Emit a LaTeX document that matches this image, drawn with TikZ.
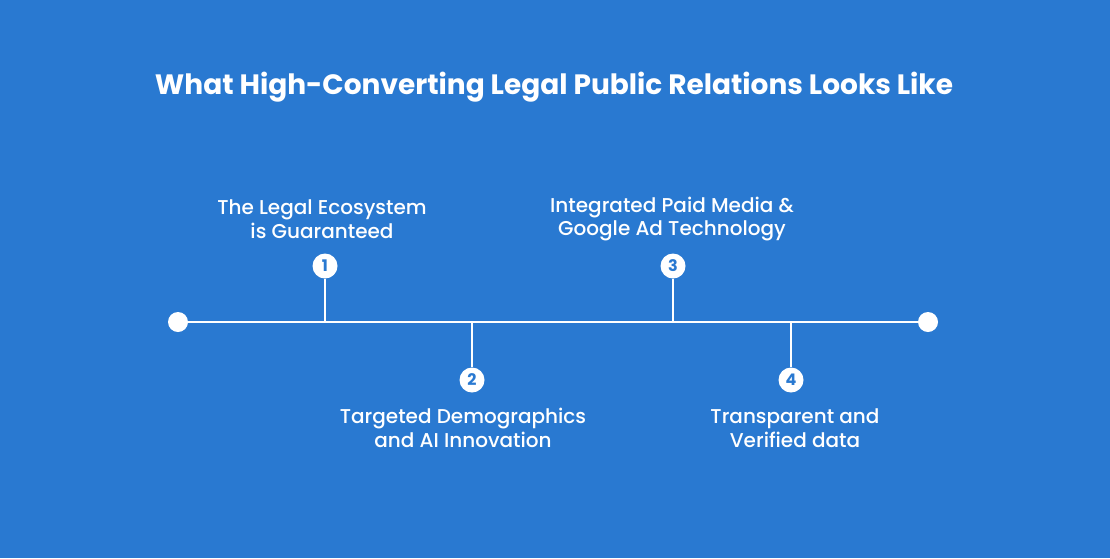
\documentclass[tikz,border=0pt]{standalone}
\usepackage{fontspec}
\setmainfont{Poppins}[UprightFont=* Medium,BoldFont=* Bold]
\definecolor{bg}{HTML}{2979D1}
\begin{document}
\begin{tikzpicture}[x=1pt,y=-1pt,
  ln/.style={white,line width=2.4pt},
  endpt/.style={circle,fill=white,minimum size=20pt,inner sep=0pt},
  num/.style={circle,fill=white,minimum size=25pt,inner sep=0pt,text=bg,font=\bfseries\fontsize{16}{16}\selectfont},
  lab/.style={align=center,text=white,font=\fontsize{20}{23.5}\selectfont}]
\fill[bg] (0,0) rectangle (1110,558);
\useasboundingbox (0,0) rectangle (1110,558);
\node[text=white,font=\bfseries\fontsize{28}{30}\selectfont] (title) at (554,87) {What High-Converting Legal Public Relations Looks Like};
\node[endpt] (L) at (178,322) {};
\node[endpt] (R) at (928,322) {};
\draw[ln] (L) -- (R);
\coordinate (p1) at (325,322); \coordinate (p2) at (472,322);
\coordinate (p3) at (673,322); \coordinate (p4) at (791,322);
\node[num] (n1) at (325,266) {1};
\node[num] (n2) at (472,380) {2};
\node[num] (n3) at (673,266) {3};
\node[num] (n4) at (791,380) {4};
\draw[ln] (n1) -- (p1); \draw[ln] (n2) -- (p2);
\draw[ln] (n3) -- (p3); \draw[ln] (n4) -- (p4);
\node[lab] (t1) at (322,219) {The Legal Ecosystem\\is Guaranteed};
\node[lab] (t3) at (672,219) {Integrated Paid Media \&\\Google Ad Technology};
\node[lab] (t2) at (463,428) {Targeted Demographics\\and AI Innovation};
\node[lab] (t4) at (795,428) {Transparent and\\Verified data};
\end{tikzpicture}
\end{document}
